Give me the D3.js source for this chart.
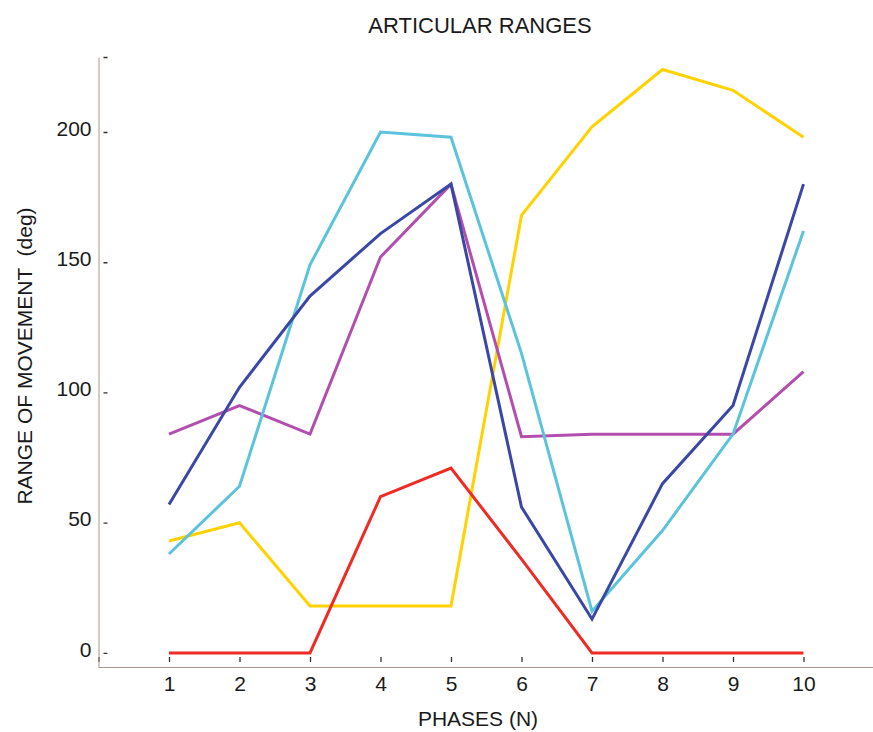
<!DOCTYPE html>
<html>
<head>
<meta charset="utf-8">
<script src="https://cdn.jsdelivr.net/npm/d3@7"></script>
<style>
  body { margin: 0; background: #fff; }
  svg { font-family: "Liberation Sans", Arial, Helvetica, sans-serif; }
  .axis path { stroke: #a8968f; stroke-width: 1; }
  .axis line { stroke: #333; stroke-width: 1.3; stroke-dasharray: 0 5 4; }
  .axis text { font-size: 21px; fill: #1a1a1a; }
  .series { fill: none; stroke-width: 3; stroke-linejoin: miter; }
</style>
</head>
<body>
<script>
var width = 873
var height = 732

var phases = [1, 2, 3, 4, 5, 6, 7, 8, 9, 10]
var yTicks = [0, 50, 100, 150, 200]

var darkBlue = [57, 102, 137, 161, 180, 56, 13, 65, 95, 180]
var cyan     = [38, 64, 149, 200, 198, 115, 16, 47, 84, 162]
var magenta  = [84, 95, 84, 152, 180, 83, 84, 84, 84, 108]
var yellow   = [43, 50, 18, 18, 18, 168, 202, 224, 216, 198]
var red      = [0, 0, 0, 60, 71, 36, 0, 0, 0, 0]

var series = [
  { name: "yellow", values: yellow, color: "#ffd200" },
  { name: "red", values: red, color: "#ee2b24" },
  { name: "magenta", values: magenta, color: "#b24fae" },
  { name: "cyan", values: cyan, color: "#5bc4dc" },
  { name: "darkBlue", values: darkBlue, color: "#3a47a5" }
]

var x = d3.scaleLinear().domain([0, 11]).range([98.5, 874])
var y = d3.scaleLinear().domain([-5.4, 228.8]).range([667, 57])

var svg = d3.select("body").append("svg")
  .attr("width", width)
  .attr("height", height)

// axes
var xAxis = d3.axisBottom(x)
  .tickValues([0].concat(phases))
  .tickSizeInner(-10).tickSizeOuter(0)
  .tickPadding(9)
  .tickFormat(function (d) { return d === 0 ? "" : d })

svg.append("g")
  .attr("class", "axis")
  .attr("transform", "translate(0," + y.range()[0] + ")")
  .call(xAxis)

var yAxis = d3.axisLeft(y)
  .tickValues(yTicks.concat([y.domain()[1]]))
  .tickSizeInner(-9).tickSizeOuter(0)
  .tickPadding(7)
  .tickFormat(function (d) { return yTicks.indexOf(d) < 0 ? "" : d })

svg.append("g")
  .attr("class", "axis")
  .attr("transform", "translate(" + x.range()[0] + ",0)")
  .call(yAxis)
  .selectAll("text").attr("dy", "0.15em")

// lines
var line = d3.line()
  .x(function (d, i) { return x(phases[i]) })
  .y(function (d) { return y(d) })

svg.selectAll(".series")
  .data(series)
  .enter().append("path")
  .attr("class", "series")
  .attr("stroke", function (d) { return d.color })
  .attr("d", function (d) { return line(d.values) })

// titles
svg.append("text")
  .attr("x", 480).attr("y", 33)
  .attr("text-anchor", "middle")
  .style("font-size", "22px").style("fill", "#1a1a1a")
  .text("ARTICULAR RANGES")

svg.append("text")
  .attr("x", 478).attr("y", 726)
  .attr("text-anchor", "middle")
  .style("font-size", "21px").style("fill", "#1a1a1a")
  .text("PHASES (N)")

svg.append("text")
  .attr("transform", "translate(32,356) rotate(-90)")
  .attr("text-anchor", "middle")
  .style("font-size", "21px").style("fill", "#1a1a1a")
  .style("white-space", "pre")
  .text("RANGE OF MOVEMENT  (deg)")
</script>
</body>
</html>
